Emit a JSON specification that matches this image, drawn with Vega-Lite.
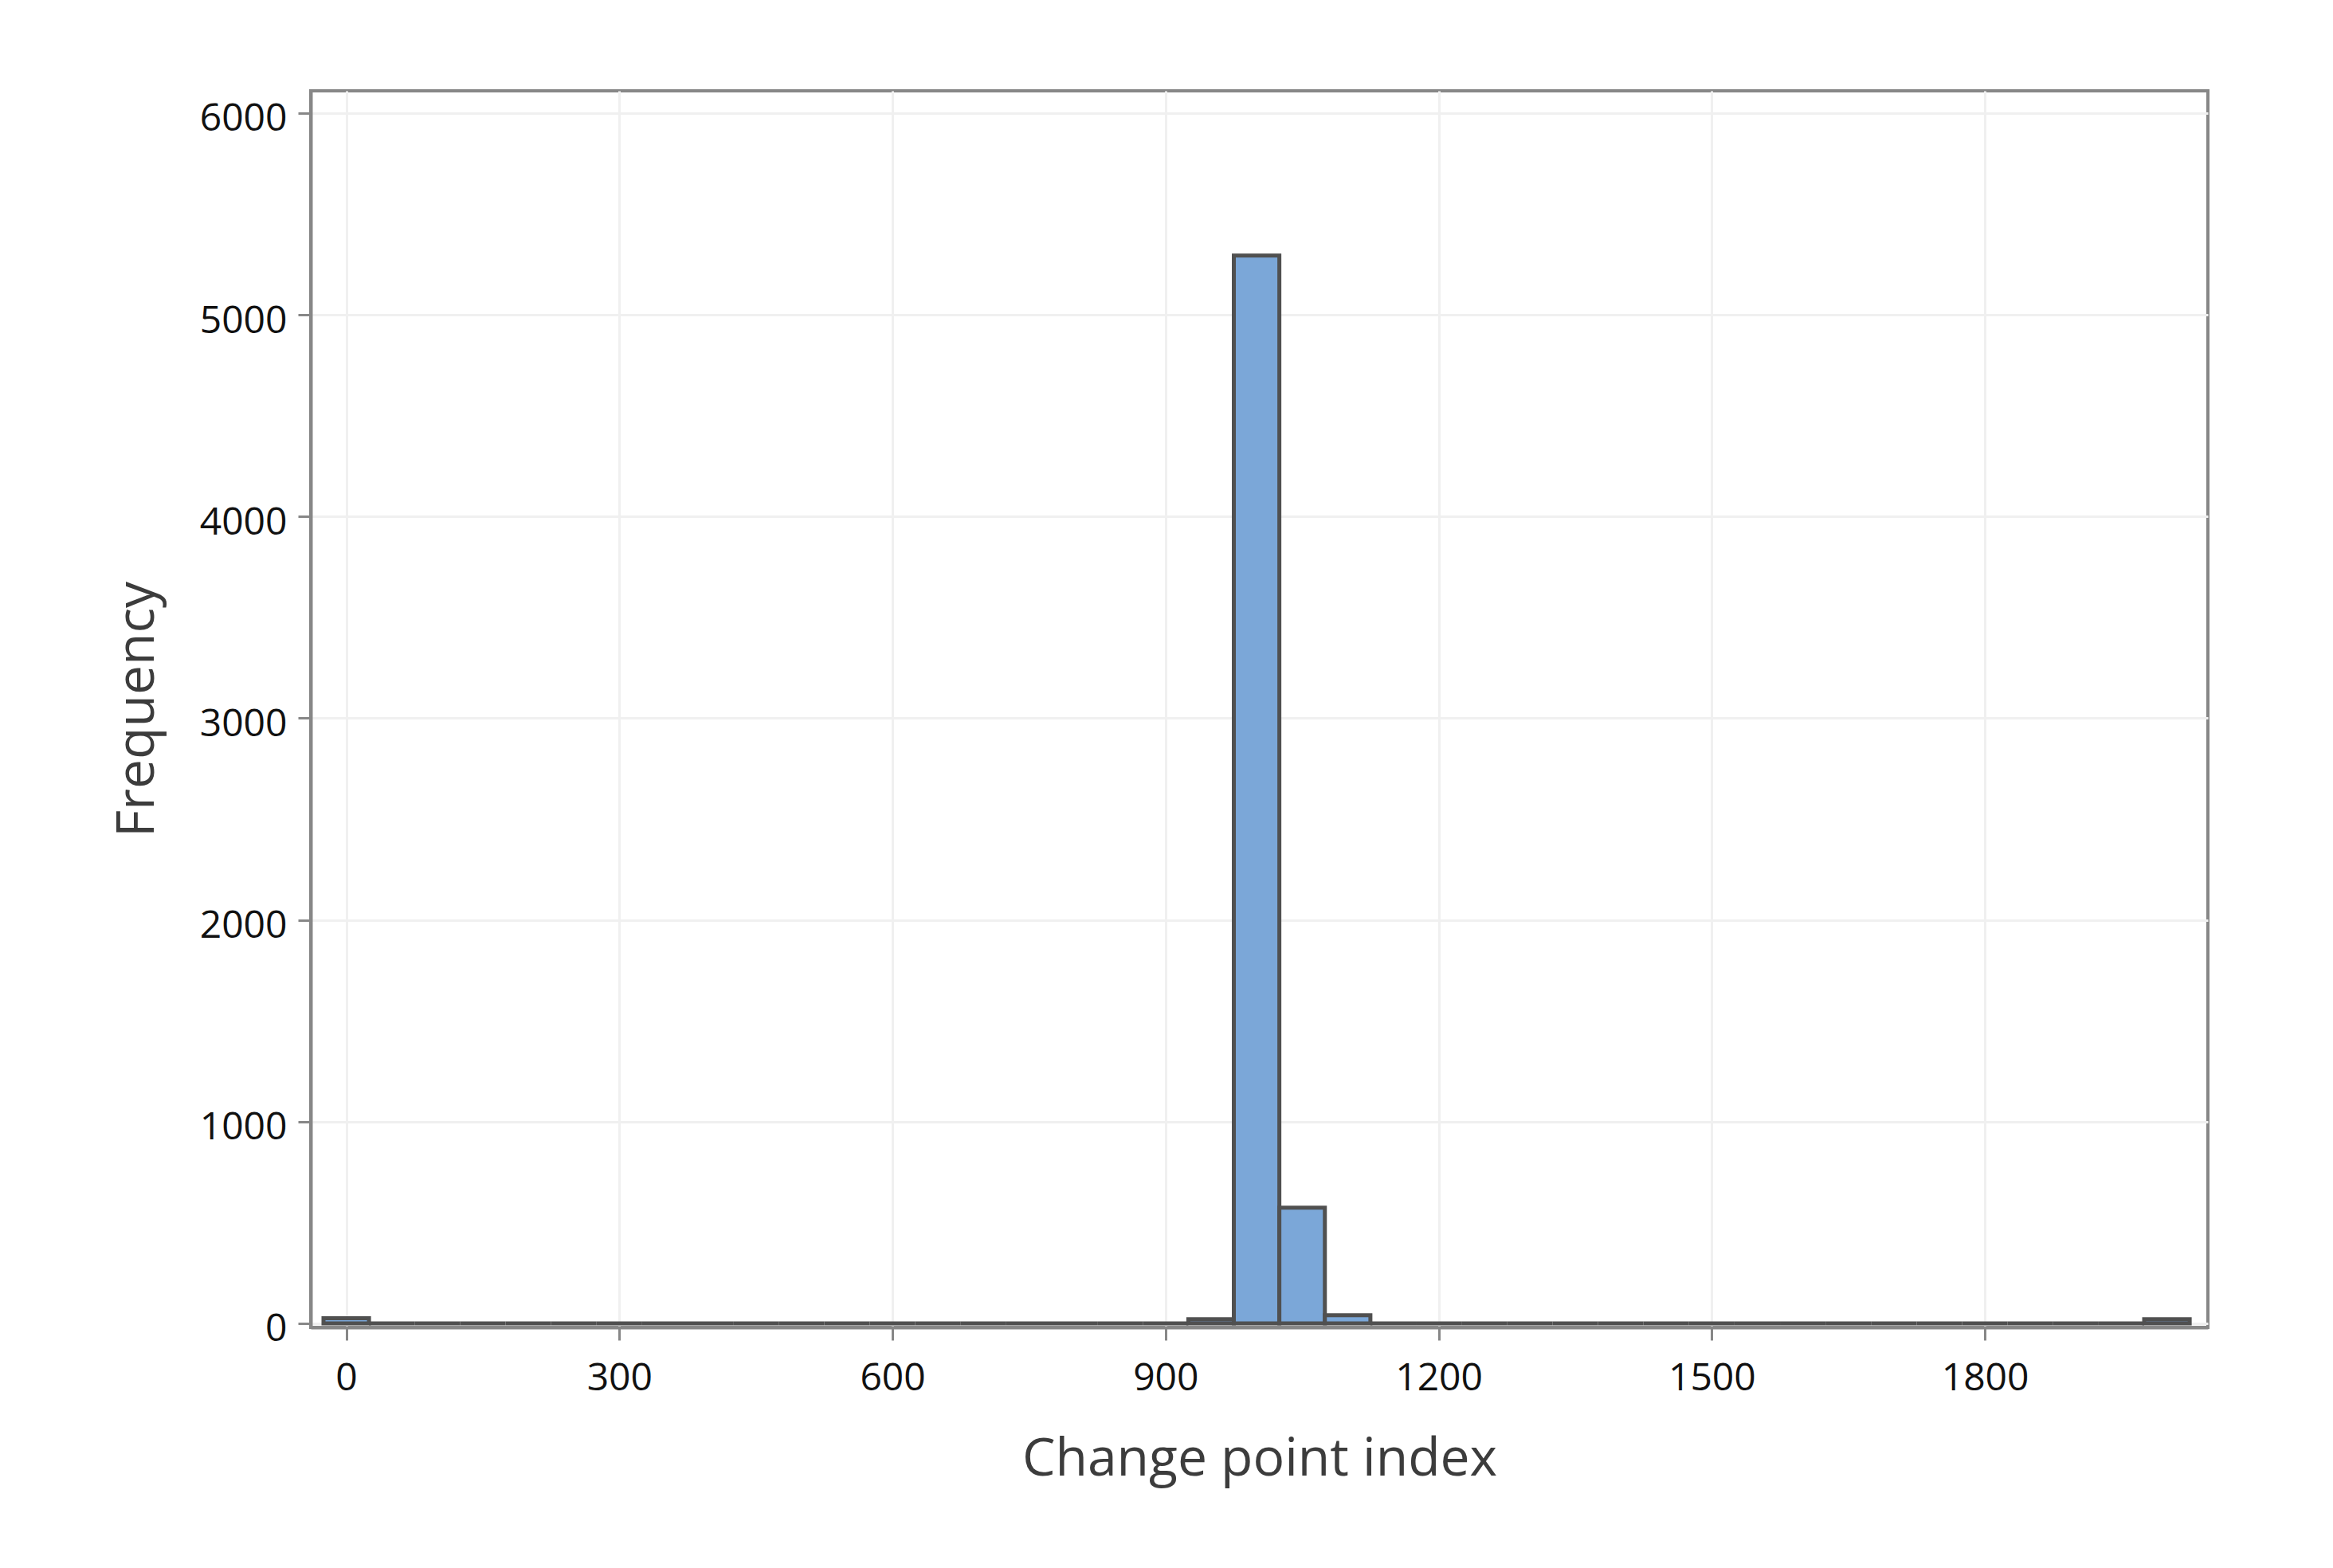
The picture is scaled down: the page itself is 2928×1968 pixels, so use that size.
{
  "$schema": "https://vega.github.io/schema/vega-lite/v6.json",
  "autosize": {"type": "none"},
  "width": 2381,
  "height": 1552,
  "padding": {"left": 390, "top": 114, "right": 157, "bottom": 302},
  "background": "white",
  "config": {
    "font": "Open Sans",
    "view": {"stroke": "#878787", "strokeWidth": 4},
    "axis": {
      "domainColor": "#878787",
      "domainWidth": 4,
      "tickColor": "#878787",
      "tickWidth": 3,
      "tickSize": 16,
      "gridColor": "#f0f0f0",
      "gridWidth": 3,
      "labelFont": "Open Sans",
      "labelFontSize": 48,
      "labelColor": "#111111",
      "labelPadding": 14,
      "titleFont": "Open Sans",
      "titleFontSize": 66,
      "titleFontWeight": "normal",
      "titleColor": "#3c3c3c",
      "format": "d"
    }
  },
  "data": {
    "values": [
      {"bin_start": -25, "bin_end": 25, "count": 25},
      {"bin_start": 25, "bin_end": 75, "count": 0},
      {"bin_start": 75, "bin_end": 125, "count": 0},
      {"bin_start": 125, "bin_end": 175, "count": 0},
      {"bin_start": 175, "bin_end": 225, "count": 0},
      {"bin_start": 225, "bin_end": 275, "count": 0},
      {"bin_start": 275, "bin_end": 325, "count": 0},
      {"bin_start": 325, "bin_end": 375, "count": 0},
      {"bin_start": 375, "bin_end": 425, "count": 0},
      {"bin_start": 425, "bin_end": 475, "count": 0},
      {"bin_start": 475, "bin_end": 525, "count": 0},
      {"bin_start": 525, "bin_end": 575, "count": 0},
      {"bin_start": 575, "bin_end": 625, "count": 0},
      {"bin_start": 625, "bin_end": 675, "count": 0},
      {"bin_start": 675, "bin_end": 725, "count": 0},
      {"bin_start": 725, "bin_end": 775, "count": 0},
      {"bin_start": 775, "bin_end": 825, "count": 0},
      {"bin_start": 825, "bin_end": 875, "count": 0},
      {"bin_start": 875, "bin_end": 925, "count": 0},
      {"bin_start": 925, "bin_end": 975, "count": 20},
      {"bin_start": 975, "bin_end": 1025, "count": 5293},
      {"bin_start": 1025, "bin_end": 1075, "count": 573},
      {"bin_start": 1075, "bin_end": 1125, "count": 40},
      {"bin_start": 1125, "bin_end": 1175, "count": 0},
      {"bin_start": 1175, "bin_end": 1225, "count": 0},
      {"bin_start": 1225, "bin_end": 1275, "count": 0},
      {"bin_start": 1275, "bin_end": 1325, "count": 0},
      {"bin_start": 1325, "bin_end": 1375, "count": 0},
      {"bin_start": 1375, "bin_end": 1425, "count": 0},
      {"bin_start": 1425, "bin_end": 1475, "count": 0},
      {"bin_start": 1475, "bin_end": 1525, "count": 0},
      {"bin_start": 1525, "bin_end": 1575, "count": 0},
      {"bin_start": 1575, "bin_end": 1625, "count": 0},
      {"bin_start": 1625, "bin_end": 1675, "count": 0},
      {"bin_start": 1675, "bin_end": 1725, "count": 0},
      {"bin_start": 1725, "bin_end": 1775, "count": 0},
      {"bin_start": 1775, "bin_end": 1825, "count": 0},
      {"bin_start": 1825, "bin_end": 1875, "count": 0},
      {"bin_start": 1875, "bin_end": 1925, "count": 0},
      {"bin_start": 1925, "bin_end": 1975, "count": 0},
      {"bin_start": 1975, "bin_end": 2025, "count": 20}
    ]
  },
  "mark": {"type": "bar", "fill": "#7ba7d8", "stroke": "#505050", "strokeWidth": 5, "strokeJoin": "miter"},
  "encoding": {
    "x": {
      "field": "bin_start",
      "type": "quantitative",
      "scale": {"domain": [-39, 2045], "nice": false, "zero": false},
      "axis": {"values": [0, 300, 600, 900, 1200, 1500, 1800], "title": "Change point index", "titlePadding": 45, "labelPadding": 24}
    },
    "x2": {"field": "bin_end"},
    "y": {
      "field": "count",
      "type": "quantitative",
      "scale": {"domain": [-20, 6110], "nice": false, "zero": false},
      "axis": {"values": [0, 1000, 2000, 3000, 4000, 5000, 6000], "title": "Frequency", "titlePadding": 44, "labelOffset": 8}
    },
    "y2": {"datum": 0}
  }
}
